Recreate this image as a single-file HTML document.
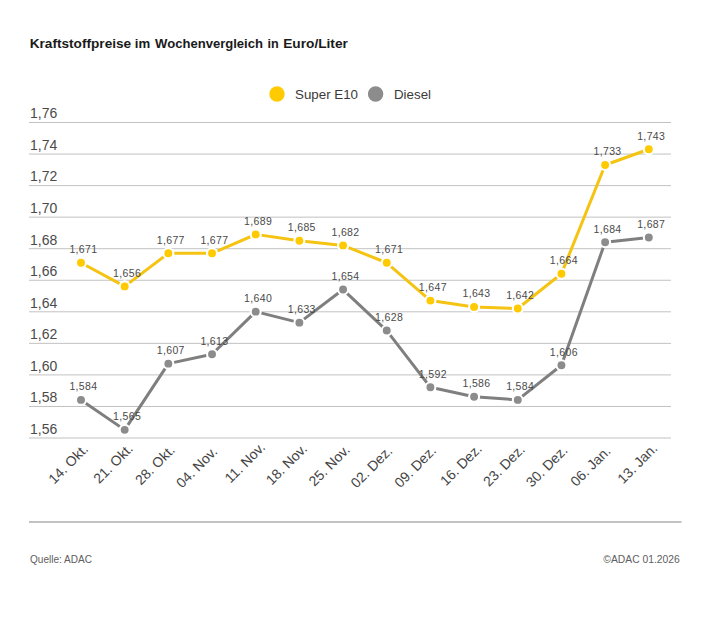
<!DOCTYPE html><html><head><meta charset="utf-8"><style>html,body{margin:0;padding:0;background:#fff;width:710px;height:623px;overflow:hidden}svg{display:block}text{font-family:"Liberation Sans",sans-serif}</style></head><body>
<svg width="710" height="623" viewBox="0 0 710 623">
<rect width="710" height="623" fill="#fff"/>
<text x="29.7" y="48.4" font-size="13.5" font-weight="bold" fill="#1a1a1a" textLength="101.5" lengthAdjust="spacingAndGlyphs">Kraftstoffpreise</text>
<text x="134.8" y="48.4" font-size="13.5" font-weight="bold" fill="#1a1a1a" textLength="15.4" lengthAdjust="spacingAndGlyphs">im</text>
<text x="155.1" y="48.4" font-size="13.5" font-weight="bold" fill="#1a1a1a" textLength="107.9" lengthAdjust="spacingAndGlyphs">Wochenvergleich</text>
<text x="267.5" y="48.4" font-size="13.5" font-weight="bold" fill="#1a1a1a" textLength="11.2" lengthAdjust="spacingAndGlyphs">in</text>
<text x="283.2" y="48.4" font-size="13.5" font-weight="bold" fill="#1a1a1a" textLength="64.7" lengthAdjust="spacingAndGlyphs">Euro/Liter</text>
<circle cx="277" cy="94" r="7.7" fill="#ffca00"/>
<text x="295" y="98.5" font-size="13.5" fill="#3a3a3a" textLength="63" lengthAdjust="spacingAndGlyphs">Super E10</text>
<circle cx="375.6" cy="94" r="7.7" fill="#8c8c8c"/>
<text x="394" y="98.5" font-size="13.5" fill="#3a3a3a" textLength="37" lengthAdjust="spacingAndGlyphs">Diesel</text>
<rect x="29" y="122.00" width="642" height="1" fill="#c2c2c2"/>
<text x="30" y="118.30" font-size="14" fill="#4a4a4a">1,76</text>
<rect x="29" y="153.55" width="642" height="1" fill="#c2c2c2"/>
<text x="30" y="149.85" font-size="14" fill="#4a4a4a">1,74</text>
<rect x="29" y="185.10" width="642" height="1" fill="#c2c2c2"/>
<text x="30" y="181.40" font-size="14" fill="#4a4a4a">1,72</text>
<rect x="29" y="216.65" width="642" height="1" fill="#c2c2c2"/>
<text x="30" y="212.95" font-size="14" fill="#4a4a4a">1,70</text>
<rect x="29" y="248.20" width="642" height="1" fill="#c2c2c2"/>
<text x="30" y="244.50" font-size="14" fill="#4a4a4a">1,68</text>
<rect x="29" y="279.75" width="642" height="1" fill="#c2c2c2"/>
<text x="30" y="276.05" font-size="14" fill="#4a4a4a">1,66</text>
<rect x="29" y="311.30" width="642" height="1" fill="#c2c2c2"/>
<text x="30" y="307.60" font-size="14" fill="#4a4a4a">1,64</text>
<rect x="29" y="342.85" width="642" height="1" fill="#c2c2c2"/>
<text x="30" y="339.15" font-size="14" fill="#4a4a4a">1,62</text>
<rect x="29" y="374.40" width="642" height="1" fill="#c2c2c2"/>
<text x="30" y="370.70" font-size="14" fill="#4a4a4a">1,60</text>
<rect x="29" y="405.95" width="642" height="1" fill="#c2c2c2"/>
<text x="30" y="402.25" font-size="14" fill="#4a4a4a">1,58</text>
<rect x="29" y="437.50" width="642" height="1" fill="#c2c2c2"/>
<text x="30" y="433.80" font-size="14" fill="#4a4a4a">1,56</text>
<text x="88.90" y="450.0" font-size="14" fill="#444444" text-anchor="end" transform="rotate(-45 88.90 450.0)">14. Okt.</text>
<text x="133.88" y="449.5" font-size="14" fill="#444444" text-anchor="end" transform="rotate(-45 133.88 449.5)">21. Okt.</text>
<text x="175.65" y="451.0" font-size="14" fill="#444444" text-anchor="end" transform="rotate(-45 175.65 451.0)">28. Okt.</text>
<text x="218.23" y="452.5" font-size="14" fill="#444444" text-anchor="end" transform="rotate(-45 218.23 452.5)">04. Nov.</text>
<text x="266.01" y="448.3" font-size="14" fill="#444444" text-anchor="end" transform="rotate(-45 266.01 448.3)">11. Nov.</text>
<text x="307.98" y="449.70000000000005" font-size="14" fill="#444444" text-anchor="end" transform="rotate(-45 307.98 449.70000000000005)">18. Nov.</text>
<text x="350.76" y="450.8" font-size="14" fill="#444444" text-anchor="end" transform="rotate(-45 350.76 450.8)">25. Nov.</text>
<text x="393.34" y="451.90000000000003" font-size="14" fill="#444444" text-anchor="end" transform="rotate(-45 393.34 451.90000000000003)">02. Dez.</text>
<text x="437.02" y="451.6" font-size="14" fill="#444444" text-anchor="end" transform="rotate(-45 437.02 451.6)">09. Dez.</text>
<text x="482.79" y="449.70000000000005" font-size="14" fill="#444444" text-anchor="end" transform="rotate(-45 482.79 449.70000000000005)">16. Dez.</text>
<text x="525.77" y="450.40000000000003" font-size="14" fill="#444444" text-anchor="end" transform="rotate(-45 525.77 450.40000000000003)">23. Dez.</text>
<text x="568.55" y="451.20000000000005" font-size="14" fill="#444444" text-anchor="end" transform="rotate(-45 568.55 451.20000000000005)">30. Dez.</text>
<text x="611.42" y="451.90000000000003" font-size="14" fill="#444444" text-anchor="end" transform="rotate(-45 611.42 451.90000000000003)">06. Jan.</text>
<text x="658.40" y="449.20000000000005" font-size="14" fill="#444444" text-anchor="end" transform="rotate(-45 658.40 449.20000000000005)">13. Jan.</text>
<polyline points="81.00,262.76 124.68,286.41 168.35,253.30 212.03,253.30 255.71,234.38 299.38,240.69 343.06,245.42 386.74,262.76 430.42,300.59 474.09,306.90 517.77,308.48 561.45,273.79 605.12,165.02 648.80,149.25" fill="none" stroke="#f5c312" stroke-width="3" stroke-linejoin="round"/>
<circle cx="81.00" cy="262.76" r="5.0" fill="#ffca00" stroke="#fff" stroke-width="2.1"/>
<circle cx="124.68" cy="286.41" r="5.0" fill="#ffca00" stroke="#fff" stroke-width="2.1"/>
<circle cx="168.35" cy="253.30" r="5.0" fill="#ffca00" stroke="#fff" stroke-width="2.1"/>
<circle cx="212.03" cy="253.30" r="5.0" fill="#ffca00" stroke="#fff" stroke-width="2.1"/>
<circle cx="255.71" cy="234.38" r="5.0" fill="#ffca00" stroke="#fff" stroke-width="2.1"/>
<circle cx="299.38" cy="240.69" r="5.0" fill="#ffca00" stroke="#fff" stroke-width="2.1"/>
<circle cx="343.06" cy="245.42" r="5.0" fill="#ffca00" stroke="#fff" stroke-width="2.1"/>
<circle cx="386.74" cy="262.76" r="5.0" fill="#ffca00" stroke="#fff" stroke-width="2.1"/>
<circle cx="430.42" cy="300.59" r="5.0" fill="#ffca00" stroke="#fff" stroke-width="2.1"/>
<circle cx="474.09" cy="306.90" r="5.0" fill="#ffca00" stroke="#fff" stroke-width="2.1"/>
<circle cx="517.77" cy="308.48" r="5.0" fill="#ffca00" stroke="#fff" stroke-width="2.1"/>
<circle cx="561.45" cy="273.79" r="5.0" fill="#ffca00" stroke="#fff" stroke-width="2.1"/>
<circle cx="605.12" cy="165.02" r="5.0" fill="#ffca00" stroke="#fff" stroke-width="2.1"/>
<circle cx="648.80" cy="149.25" r="5.0" fill="#ffca00" stroke="#fff" stroke-width="2.1"/>
<text x="83.40" y="253.06" font-size="10.5" letter-spacing="0.35" fill="#4a4a4a" text-anchor="middle">1,671</text>
<text x="127.08" y="276.71" font-size="10.5" letter-spacing="0.35" fill="#4a4a4a" text-anchor="middle">1,656</text>
<text x="170.75" y="243.60" font-size="10.5" letter-spacing="0.35" fill="#4a4a4a" text-anchor="middle">1,677</text>
<text x="214.43" y="243.60" font-size="10.5" letter-spacing="0.35" fill="#4a4a4a" text-anchor="middle">1,677</text>
<text x="258.11" y="224.68" font-size="10.5" letter-spacing="0.35" fill="#4a4a4a" text-anchor="middle">1,689</text>
<text x="301.78" y="230.99" font-size="10.5" letter-spacing="0.35" fill="#4a4a4a" text-anchor="middle">1,685</text>
<text x="345.46" y="235.72" font-size="10.5" letter-spacing="0.35" fill="#4a4a4a" text-anchor="middle">1,682</text>
<text x="389.14" y="253.06" font-size="10.5" letter-spacing="0.35" fill="#4a4a4a" text-anchor="middle">1,671</text>
<text x="432.82" y="290.89" font-size="10.5" letter-spacing="0.35" fill="#4a4a4a" text-anchor="middle">1,647</text>
<text x="476.49" y="297.20" font-size="10.5" letter-spacing="0.35" fill="#4a4a4a" text-anchor="middle">1,643</text>
<text x="520.17" y="298.78" font-size="10.5" letter-spacing="0.35" fill="#4a4a4a" text-anchor="middle">1,642</text>
<text x="563.85" y="264.09" font-size="10.5" letter-spacing="0.35" fill="#4a4a4a" text-anchor="middle">1,664</text>
<text x="607.52" y="155.32" font-size="10.5" letter-spacing="0.35" fill="#4a4a4a" text-anchor="middle">1,733</text>
<text x="651.20" y="139.55" font-size="10.5" letter-spacing="0.35" fill="#4a4a4a" text-anchor="middle">1,743</text>
<polyline points="81.00,399.91 124.68,429.87 168.35,363.65 212.03,354.20 255.71,311.63 299.38,322.67 343.06,289.56 386.74,330.55 430.42,387.30 474.09,396.76 517.77,399.91 561.45,365.23 605.12,242.26 648.80,237.53" fill="none" stroke="#7f7f7f" stroke-width="3" stroke-linejoin="round"/>
<circle cx="81.00" cy="399.91" r="5.0" fill="#8c8c8c" stroke="#fff" stroke-width="2.1"/>
<circle cx="124.68" cy="429.87" r="5.0" fill="#8c8c8c" stroke="#fff" stroke-width="2.1"/>
<circle cx="168.35" cy="363.65" r="5.0" fill="#8c8c8c" stroke="#fff" stroke-width="2.1"/>
<circle cx="212.03" cy="354.20" r="5.0" fill="#8c8c8c" stroke="#fff" stroke-width="2.1"/>
<circle cx="255.71" cy="311.63" r="5.0" fill="#8c8c8c" stroke="#fff" stroke-width="2.1"/>
<circle cx="299.38" cy="322.67" r="5.0" fill="#8c8c8c" stroke="#fff" stroke-width="2.1"/>
<circle cx="343.06" cy="289.56" r="5.0" fill="#8c8c8c" stroke="#fff" stroke-width="2.1"/>
<circle cx="386.74" cy="330.55" r="5.0" fill="#8c8c8c" stroke="#fff" stroke-width="2.1"/>
<circle cx="430.42" cy="387.30" r="5.0" fill="#8c8c8c" stroke="#fff" stroke-width="2.1"/>
<circle cx="474.09" cy="396.76" r="5.0" fill="#8c8c8c" stroke="#fff" stroke-width="2.1"/>
<circle cx="517.77" cy="399.91" r="5.0" fill="#8c8c8c" stroke="#fff" stroke-width="2.1"/>
<circle cx="561.45" cy="365.23" r="5.0" fill="#8c8c8c" stroke="#fff" stroke-width="2.1"/>
<circle cx="605.12" cy="242.26" r="5.0" fill="#8c8c8c" stroke="#fff" stroke-width="2.1"/>
<circle cx="648.80" cy="237.53" r="5.0" fill="#8c8c8c" stroke="#fff" stroke-width="2.1"/>
<text x="83.40" y="390.21" font-size="10.5" letter-spacing="0.35" fill="#4a4a4a" text-anchor="middle">1,584</text>
<text x="127.08" y="420.17" font-size="10.5" letter-spacing="0.35" fill="#4a4a4a" text-anchor="middle">1,565</text>
<text x="170.75" y="353.95" font-size="10.5" letter-spacing="0.35" fill="#4a4a4a" text-anchor="middle">1,607</text>
<text x="214.43" y="344.50" font-size="10.5" letter-spacing="0.35" fill="#4a4a4a" text-anchor="middle">1,613</text>
<text x="258.11" y="301.93" font-size="10.5" letter-spacing="0.35" fill="#4a4a4a" text-anchor="middle">1,640</text>
<text x="301.78" y="312.97" font-size="10.5" letter-spacing="0.35" fill="#4a4a4a" text-anchor="middle">1,633</text>
<text x="345.46" y="279.86" font-size="10.5" letter-spacing="0.35" fill="#4a4a4a" text-anchor="middle">1,654</text>
<text x="389.14" y="320.85" font-size="10.5" letter-spacing="0.35" fill="#4a4a4a" text-anchor="middle">1,628</text>
<text x="432.82" y="377.60" font-size="10.5" letter-spacing="0.35" fill="#4a4a4a" text-anchor="middle">1,592</text>
<text x="476.49" y="387.06" font-size="10.5" letter-spacing="0.35" fill="#4a4a4a" text-anchor="middle">1,586</text>
<text x="520.17" y="390.21" font-size="10.5" letter-spacing="0.35" fill="#4a4a4a" text-anchor="middle">1,584</text>
<text x="563.85" y="355.53" font-size="10.5" letter-spacing="0.35" fill="#4a4a4a" text-anchor="middle">1,606</text>
<text x="607.52" y="232.56" font-size="10.5" letter-spacing="0.35" fill="#4a4a4a" text-anchor="middle">1,684</text>
<text x="651.20" y="227.83" font-size="10.5" letter-spacing="0.35" fill="#4a4a4a" text-anchor="middle">1,687</text>
<rect x="29" y="521" width="652.5" height="2" fill="#c2c2c2"/>
<text x="30" y="562.8" font-size="10.5" fill="#606060" textLength="62" lengthAdjust="spacingAndGlyphs">Quelle: ADAC</text>
<text x="603.3" y="562.8" font-size="10.5" fill="#606060" textLength="76.5" lengthAdjust="spacingAndGlyphs">©ADAC 01.2026</text>
</svg></body></html>
